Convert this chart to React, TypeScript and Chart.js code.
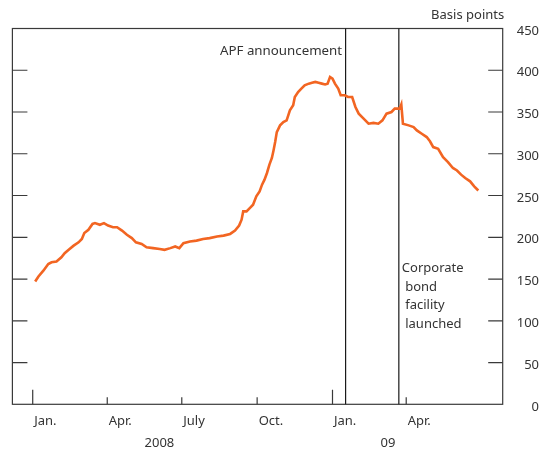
import React, { useEffect, useRef } from "react";
import { Chart, registerables } from "chart.js";

Chart.register(...registerables);

// Days since 1 Jan 2008
const days = [3,7,13,19,23,29,35,39,45,50,56,60,63,68,73,76,82,87,92,98,103,109,115,121,126,133,139,147,155,161,168,174,179,184,192,200,208,216,225,233,241,247,252,255,257,261,265,269,273,277,280,283,286,289,292,294,296,298,302,306,310,314,318,320,324,328,332,337,341,345,349,353,357,360,363,366,369,373,376,381,385,390,394,398,404,410,416,422,427,432,438,442,448,450,452,459,465,469,475,481,485,489,495,501,507,513,518,523,528,534,539,544];
const spread = [147,153,160,168,170,171,176,181,186,190,194,198,205,209,216,217,215,217,214,212,212,208,203,199,194,192,188,187,186,185,187,189,187,193,195,196,198,199,201,202,204,208,214,221,231,231,235,239,249,255,263,269,277,287,295,304,314,326,334,338,340,352,358,368,374,378,382,384,385,386,385,384,383,384,392,390,384,378,370,370,368,368,356,348,342,336,337,336,340,348,350,354,354,359,336,334,332,328,324,320,315,308,306,296,290,283,280,275,271,267,261,256];

const monthTickDays = [0, 91, 182, 274, 366, 456];
const monthLabels = ["Jan.", "Apr.", "July", "Oct.", "Jan.", "Apr."];
const yearTickDays = [154.7, 433.8];
const yearLabels = ["2008", "09"];
const yTicks = [0, 50, 100, 150, 200, 250, 300, 350, 400, 450];
const apfDay = 382;
const cbfDay = 447;
const apfLabel = "APF announcement";
const cbfLabel = ["Corporate", " bond", " facility", " launched"];
const unitLabel = "Basis points";

const FONT = "'Noto Sans', sans-serif";
const TEXT = "#333333";
const AXIS = "#3a3a3a";

export default function App() {
  const ref = useRef<HTMLCanvasElement | null>(null);
  useEffect(() => {
    if (!ref.current) return;
    const deco = {
      id: "deco",
      beforeDatasetsDraw(chart: any) {
        const { ctx, chartArea: a, scales } = chart;
        const xs = scales.x;
        const ys = scales.y;
        ctx.save();
        ctx.strokeStyle = AXIS;
        ctx.lineWidth = 1.2;
        ctx.strokeRect(a.left, a.top, a.right - a.left, a.bottom - a.top);
        ctx.beginPath();
        yTicks.forEach((v) => {
          if (v === 0 || v === 450) return;
          const y = ys.getPixelForValue(v);
          ctx.moveTo(a.left, y);
          ctx.lineTo(a.left + 15, y);
          ctx.moveTo(a.right - 14.5, y);
          ctx.lineTo(a.right, y);
        });
        monthTickDays.forEach((d, i) => {
          const x = xs.getPixelForValue(d);
          const len = monthLabels[i] === "Jan." ? 14.5 : 7;
          ctx.moveTo(x, a.bottom);
          ctx.lineTo(x, a.bottom - len);
        });
        ctx.stroke();
        ctx.strokeStyle = "#1a1a1a";
        ctx.lineWidth = 1.2;
        ctx.beginPath();
        [apfDay, cbfDay].forEach((d) => {
          const x = xs.getPixelForValue(d);
          ctx.moveTo(x, a.top);
          ctx.lineTo(x, a.bottom);
        });
        ctx.stroke();
        ctx.fillStyle = TEXT;
        ctx.font = `13px ${FONT}`;
        ctx.textBaseline = "middle";
        ctx.textAlign = "right";
        ctx.fillText(unitLabel, a.right + 1.5, 14.8);
        ctx.font = `13.3px ${FONT}`;
        ctx.fillText(apfLabel, xs.getPixelForValue(apfDay) - 3.5, 51);
        ctx.font = `13px ${FONT}`;
        ctx.textAlign = "left";
        const cx = xs.getPixelForValue(cbfDay) + 3;
        cbfLabel.forEach((t, i) => ctx.fillText(t, cx, 268.3 + i * 18.7));
        ctx.restore();
      },
    };
    const chart = new Chart(ref.current, {
      type: "line",
      data: {
        datasets: [
          {
            data: days.map((d, i) => ({ x: d, y: spread[i] })),
            borderColor: "#F26522",
            borderWidth: 2.6,
            pointRadius: 0,
            tension: 0,
            fill: false,
          },
        ],
      },
      options: {
        animation: false,
        responsive: true,
        maintainAspectRatio: false,
        layout: { padding: { left: 12.4, top: 28.5, right: 0, bottom: 0 } },
        plugins: { legend: { display: false }, tooltip: { enabled: false } },
        scales: {
          x: {
            type: "linear",
            position: "bottom",
            weight: 0,
            min: -24.8,
            max: 573.8,
            afterBuildTicks: (s: any) => {
              s.ticks = monthTickDays.map((v) => ({ value: v }));
            },
            afterFit: (s: any) => {
              s.height = 24;
            },
            grid: { display: false, drawTicks: false },
            border: { display: false },
            ticks: {
              autoSkip: false,
              maxRotation: 0,
              align: "start",
              labelOffset: 1.5,
              padding: 9,
              color: TEXT,
              font: { family: FONT, size: 13 },
              callback: (_v: any, i: number) => monthLabels[i],
            },
          },
          xYear: {
            type: "linear",
            position: "bottom",
            weight: 1,
            min: -24.8,
            max: 573.8,
            afterBuildTicks: (s: any) => {
              s.ticks = yearTickDays.map((v) => ({ value: v }));
            },
            afterFit: (s: any) => {
              s.height = 21.7;
            },
            grid: { display: false, drawTicks: false },
            border: { display: false },
            ticks: {
              autoSkip: false,
              maxRotation: 0,
              padding: 7.6,
              color: TEXT,
              font: { family: FONT, size: 13 },
              callback: (_v: any, i: number) => yearLabels[i],
            },
          },
          y: {
            type: "linear",
            position: "right",
            min: 0,
            max: 450,
            afterBuildTicks: (s: any) => {
              s.ticks = yTicks.map((v) => ({ value: v }));
            },
            afterFit: (s: any) => {
              s.width = 36.3;
            },
            grid: { display: false, drawTicks: false },
            border: { display: false },
            ticks: {
              crossAlign: "far",
              padding: 6,
              labelOffset: 2.5,
              color: TEXT,
              font: { family: FONT, size: 13 },
            },
          },
        },
      },
      plugins: [deco],
    });
    return () => chart.destroy();
  }, []);
  return (
    <div style={{ position: "fixed", left: 0, top: 0, width: 539, height: 450, background: "#fff" }}>
      <canvas ref={ref} />
    </div>
  );
}
